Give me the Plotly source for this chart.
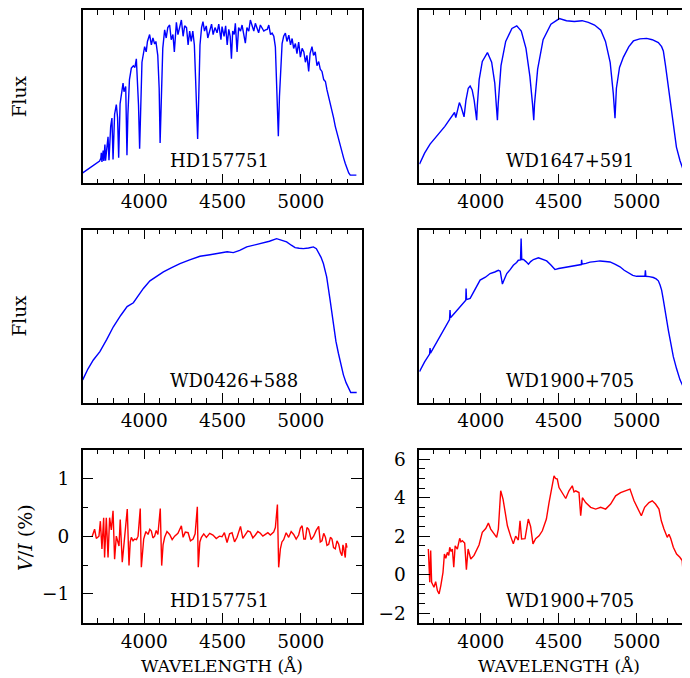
import plotly.graph_objects as go

# ---- data (flux in % of panel height, V/I in %) ----
hd_flux_wl = [3606, 3650, 3693, 3714, 3722, 3725, 3729, 3737, 3741, 3748, 3752, 3762, 3768, 3774,
              3785, 3793, 3800, 3810, 3821, 3829, 3836, 3845, 3855, 3864, 3870, 3881, 3889, 3895,
              3905, 3917, 3930, 3940, 3949, 3955, 3963, 3970, 3976, 3985, 4002, 4012, 4020, 4034,
              4045, 4055, 4066, 4074, 4086, 4095, 4101, 4108, 4118, 4130, 4140, 4150, 4162, 4172,
              4183, 4192, 4205, 4215, 4225, 4237, 4248, 4258, 4270, 4280, 4290, 4300, 4310, 4320,
              4328, 4334, 4341, 4348, 4356, 4366, 4375, 4385, 4396, 4406, 4418, 4430, 4440, 4452,
              4465, 4476, 4490, 4497, 4510, 4520, 4530, 4540, 4549, 4557, 4565, 4575, 4582, 4593,
              4603, 4615, 4625, 4635, 4646, 4656, 4668, 4678, 4690, 4700, 4710, 4720, 4731, 4742,
              4752, 4764, 4775, 4786, 4796, 4807, 4817, 4828, 4838, 4845, 4851, 4857, 4864, 4870,
              4876, 4881, 4891, 4902, 4912, 4924, 4935, 4945, 4955, 4966, 4976, 4987, 4998, 5009,
              5020, 5030, 5040, 5051, 5060, 5072, 5082, 5093, 5104, 5115, 5125, 5136, 5147, 5158,
              5168, 5179, 5190, 5200, 5210, 5221, 5232, 5243, 5254, 5264, 5275, 5285, 5296, 5307,
              5317, 5356]
hd_flux = [6.1, 9, 11.9, 12.9, 14.5, 17.7, 12.5, 19, 13, 22.5, 13.2, 24, 27, 13.4,
           33, 37.8, 13.8, 40, 45.5, 38, 14.8, 46, 52, 58, 53, 56, 16.3, 40,
           60, 66.6, 68, 67, 72, 62, 45, 20, 45, 70, 79, 76, 82, 86,
           80, 84, 80.5, 82, 74, 55, 23.4, 52, 78, 88.7, 84, 90, 91.5, 83,
           86, 76, 93, 86, 90, 94.4, 85, 91, 90, 80, 88, 82, 88, 80,
           60, 40, 25.7, 50, 80, 90, 93.5, 88, 91, 84, 89, 92, 86, 90,
           87, 92, 83, 90.6, 85, 91, 80, 89, 85, 72, 88, 86, 92.5, 76,
           90, 88, 91.5, 85, 81, 90, 88, 94.4, 91, 88, 92.5, 90, 87, 91.5,
           90, 88, 88.7, 89, 91.5, 86, 86.8, 85, 78.9, 60, 40, 27.3, 50, 61.4,
           80, 80.8, 85, 86.8, 82, 85.6, 80, 83.7, 78, 80.8, 75, 81.7, 73, 78,
           76, 70, 74, 64.7, 75, 79, 74, 76, 68, 70.4, 66, 64.7, 60, 58.9,
           54, 50, 46, 42.6, 38, 33, 29, 24.4, 20.5, 17.7, 14.5, 11.5, 8.5, 6.1,
           4.8, 4.8]

wd1647_wl = [3607, 3640, 3675, 3710, 3739, 3770, 3793, 3821, 3832, 3840, 3852, 3863, 3875, 3886,
             3893, 3905, 3920, 3932, 3945, 3958, 3968, 3974, 3978, 3990, 4010, 4043, 4070, 4090,
             4100, 4107, 4112, 4130, 4160, 4200, 4231, 4260, 4290, 4315, 4332, 4340, 4345, 4365,
             4400, 4450, 4504, 4550, 4600, 4650, 4690, 4730, 4770, 4800, 4830, 4850, 4861, 4870,
             4890, 4915, 4950, 4979, 5020, 5064, 5100, 5139, 5160, 5171, 5185, 5203, 5220, 5235,
             5255, 5278, 5300, 5316, 5342]
wd1647_flux = [11.2, 17.5, 22.7, 26.5, 29.4, 33, 36, 39.6, 41, 38, 43, 46.7, 44, 40,
               38.5, 48, 55, 56.3, 54, 48, 41, 36.5, 45, 60, 70.5, 75.6, 70, 58,
               45, 36.5, 46, 68, 82, 89.5, 91, 88, 78, 62, 46, 36.5, 46, 66,
               83, 92, 95.2, 94, 93.5, 94, 93, 91.5, 88.5, 82, 70, 52, 37.7, 55,
               67, 73, 79, 82.3, 83.5, 83.8, 83, 81.3, 79, 76.5, 68, 55.4, 43, 32.3,
               21, 13.1, 7.5, 5, 5]

wd0426_wl = [3606, 3640, 3674, 3716, 3760, 3802, 3850, 3890, 3930, 3965, 3994, 4036, 4080, 4122,
             4175, 4228, 4290, 4356, 4420, 4484, 4530, 4569, 4610, 4655, 4710, 4761, 4800, 4846,
             4880, 4910, 4940, 4964, 4990, 5017, 5050, 5081, 5100, 5113, 5130, 5145, 5166, 5188,
             5209, 5225, 5241, 5257, 5273, 5290, 5305, 5320, 5358]
wd0426_flux = [13.1, 19.5, 24.6, 29.4, 36.5, 43.8, 50.5, 55.5, 57.7, 62, 66, 70.4, 73, 75.6,
               78, 80.4, 82.5, 84.6, 85.5, 86.7, 87.2, 86.7, 88, 90, 91.2, 92.3, 93.3, 94.8,
               94, 92.9, 91, 89.6, 89.2, 89, 89.4, 90, 89, 87.1, 84, 80.4, 72.7, 59.2,
               43.8, 35.5, 28.5, 22, 16, 11.5, 8.3, 5.8, 5.8]

wd1900_wl = [3607, 3640, 3672, 3675, 3678, 3710, 3739, 3770, 3800, 3803, 3806, 3840, 3868, 3890,
             3904, 3906, 3909, 3932, 3965, 3996, 4030, 4060, 4090, 4113, 4125, 4132, 4139, 4150,
             4167, 4190, 4209, 4230, 4241, 4255, 4259, 4263, 4274, 4290, 4306, 4320, 4338, 4370,
             4395, 4423, 4450, 4476, 4500, 4530, 4560, 4594, 4620, 4645, 4647, 4650, 4675, 4701,
             4730, 4765, 4800, 4829, 4860, 4893, 4920, 4947, 4975, 5000, 5030, 5053, 5056, 5059,
             5080, 5107, 5125, 5139, 5150, 5160, 5170, 5182, 5192, 5203, 5220, 5235, 5256, 5278,
             5300, 5321, 5342]
wd1900_flux = [17.9, 23.5, 28, 31.5, 28.6, 33.5, 38, 43, 48, 53.5, 49, 52.5, 55.4, 58,
               59.2, 66, 59.5, 60.2, 65.5, 70.8, 72.5, 74.6, 75.5, 76.5, 76, 73, 68.5, 71,
               74.6, 77, 79.4, 81, 82.3, 82.5, 94.8, 82.8, 82.7, 81.5, 80, 81.5, 82.7, 83.7,
               83, 81.9, 79.5, 76.9, 77.5, 78, 78.5, 79, 79.5, 79.8, 82.5, 80, 80.5, 81.2,
               81.5, 81.9, 81.6, 81.3, 80, 78.5, 76.5, 75, 73.5, 73, 73.2, 73, 76.5, 73,
               72.8, 72.3, 71.5, 70.4, 68, 65, 60, 54.4, 48, 41.9, 33.5, 26.5, 19.5, 13.1,
               8.8, 6.3, 6.3]

hd_vi_wl = [3667, 3675, 3682, 3693, 3710, 3719, 3729, 3740, 3746, 3757, 3768, 3778, 3789, 3800,
            3810, 3821, 3838, 3846, 3859, 3874, 3891, 3902, 3910, 3917, 3928, 3938, 3950, 3960,
            3974, 3981, 3989, 3996, 4010, 4024, 4035, 4045, 4055, 4066, 4076, 4087, 4102, 4111,
            4120, 4130, 4145, 4162, 4178, 4194, 4215, 4237, 4248, 4262, 4280, 4295, 4312, 4325,
            4339, 4345, 4355, 4365, 4380, 4397, 4418, 4439, 4460, 4480, 4497, 4512, 4529, 4545,
            4561, 4577, 4593, 4604, 4615, 4630, 4646, 4662, 4678, 4694, 4710, 4726, 4742, 4758,
            4774, 4790, 4806, 4817, 4827, 4838, 4851, 4859, 4870, 4880, 4891, 4907, 4923, 4939,
            4955, 4971, 4987, 4998, 5009, 5020, 5030, 5040, 5051, 5067, 5083, 5099, 5115, 5125,
            5136, 5147, 5158, 5168, 5179, 5190, 5200, 5210, 5221, 5232, 5243, 5254, 5264, 5270,
            5275, 5280, 5285, 5290, 5296]
hd_vi = [0, 0.05, 0.12, -0.04, 0, 0.26, -0.22, 0.32, -0.37, 0.32, -0.37, 0.32, 0.11, 0.44,
         -0.4, 0, -0.17, 0.29, -0.45, -0.02, 0.47, -0.51, -0.1, -0.02, -0.08, -0.05, -0.06, 0,
         0.48, -0.54, -0.2, -0.05, 0.08, 0.03, 0.12, 0.09, -0.03, 0, 0.1, 0.03, 0.48, -0.51,
         -0.15, -0.02, 0.08, 0.03, -0.06, 0, 0.05, 0.18, -0.02, 0.07, 0.06, -0.08, -0.05, 0.04,
         0.51, -0.54, -0.1, -0.02, 0.04, -0.02, 0.05, 0.02, -0.04, 0, -0.01, 0.06, -0.11, 0.04,
         0.06, -0.1, -0.02, 0.1, 0.17, -0.04, 0.02, 0.09, 0.07, -0.03, 0.02, 0.08, 0.05, 0.0,
         0.03, 0.06, 0.02, 0.04, 0.07, 0.15, 0.55, -0.54, -0.22, -0.1, -0.06, 0.06, -0.02, 0.08,
         0.03, -0.05, 0.02, 0.14, 0.18, -0.05, -0.05, 0.15, 0.12, -0.06, 0, 0.1, 0.17, -0.1,
         -0.08, 0.05, -0.02, -0.16, -0.14, -0.02, -0.05, -0.2, -0.22, -0.08, -0.14, -0.28, -0.34, -0.15,
         -0.2, -0.3, -0.37, -0.12, -0.2]

wd1900_vi_wl = [3664, 3668, 3673, 3679, 3685, 3700, 3711, 3722, 3733, 3744, 3758, 3767, 3776, 3786,
                3795, 3801, 3810, 3818, 3827, 3836, 3850, 3865, 3873, 3882, 3897, 3908, 3919, 3936,
                3957, 3989, 4010, 4032, 4049, 4064, 4085, 4102, 4113, 4128, 4143, 4156, 4171, 4192,
                4209, 4224, 4241, 4252, 4262, 4284, 4305, 4320, 4335, 4352, 4374, 4395, 4421, 4438,
                4455, 4470, 4480, 4491, 4502, 4523, 4545, 4566, 4587, 4598, 4609, 4630, 4641, 4652,
                4673, 4705, 4737, 4769, 4801, 4833, 4865, 4897, 4929, 4957, 4983, 5008, 5030, 5051,
                5079, 5100, 5121, 5143, 5158, 5175, 5196, 5207, 5218, 5235, 5256, 5277, 5292, 5297,
                5303]
wd1900_vi = [1.33, 0.2, -0.4, 1.25, -0.4, -0.66, -0.37, -0.83, -1.0, -0.57, 0.12, 1.07, 0.85, 1.16,
             1.0, 1.42, 1.2, 1.33, 0.38, 1.5, 1.33, 1.89, 1.7, 1.76, 1.64, 0.26, 1.33, 0.81,
             1.0, 1.54, 2.2, 2.4, 2.68, 2.37, 2.11, 1.94, 2.37, 4.36, 3.93, 3.24, 2.54, 1.99,
             1.6, 2.0, 1.8, 2.8, 1.85, 1.87, 2.89, 2.5, 1.6, 1.87, 2.02, 2.28, 2.89, 3.75,
             4.62, 5.14, 5.0, 4.97, 4.53, 4.27, 3.96, 4.36, 4.62, 4.3, 4.36, 4.27, 3.06, 4.0,
             3.75, 3.5, 3.41, 3.5, 3.41, 3.67, 4.1, 4.27, 4.36, 4.45, 3.84, 3.41, 3.06, 3.5,
             3.75, 3.84, 3.67, 3.41, 2.8, 2.37, 1.94, 2.1, 1.89, 1.42, 1.07, 0.9, 0.73, 0.2,
             1.33]

names = ["HD157751", "WD1647+591", "WD0426+588", "WD1900+705", "HD157751", "WD1900+705"]

FONT = "DejaVu Serif"
BLUE = "#0000ff"
RED = "#ff0000"

# the page body has an 8px margin, so the figure is 8px smaller and everything shifted by 8px
W, H, OFF = 682, 670, 8


def px(x):
    return (x - OFF) / W


def py(y):
    return 1 - (y - OFF) / H


fig = go.Figure()
series = [(hd_flux_wl, hd_flux, BLUE), (wd1647_wl, wd1647_flux, BLUE),
          (wd0426_wl, wd0426_flux, BLUE), (wd1900_wl, wd1900_flux, BLUE),
          (hd_vi_wl, hd_vi, RED), (wd1900_vi_wl, wd1900_vi, RED)]
for i, (wl, val, col) in enumerate(series):
    sfx = "" if i == 0 else str(i + 1)
    fig.add_trace(go.Scatter(x=wl, y=val, mode="lines", line=dict(color=col, width=1.4),
                             xaxis="x" + sfx, yaxis="y" + sfx, showlegend=False))

left_dom = [px(82.7), px(361.7)]
right_dom = [px(419.3), 1.0]
row_dom = [[py(183), py(9.3)], [py(402.7), py(229.3)], [py(623.5), py(450)]]

layout = dict(width=W, height=H, margin=dict(l=0, r=0, t=0, b=0),
              paper_bgcolor="white", plot_bgcolor="white",
              font=dict(family=FONT, size=18, color="black"))

for i in range(6):
    row, col = divmod(i, 2)
    sfx = "" if i == 0 else str(i + 1)
    left = col == 0
    layout["xaxis" + sfx] = dict(
        domain=left_dom if left else right_dom,
        range=[3606, 5390] if left else [3606, 5342],
        anchor="y" + sfx, tick0=4000, dtick=500, ticks="inside", ticklen=10,
        tickwidth=1, tickcolor="black", showline=True, linecolor="black", linewidth=1.5,
        mirror="ticks", showgrid=False, zeroline=False, ticklabelstandoff=1,
        minor=dict(dtick=100, ticks="inside", ticklen=5, tickcolor="black", showgrid=False),
        tickfont=dict(family=FONT, size=18.5))
    ya = dict(domain=row_dom[row], anchor="x" + sfx, showline=True, linecolor="black",
              linewidth=1.5, mirror=True if left else False, showgrid=False, zeroline=False)
    if row < 2:
        ya.update(range=[0, 100], showticklabels=False, ticks="")
    elif left:
        ya.update(range=[-1.5, 1.5], dtick=1, tick0=0, ticks="inside", ticklen=11,
                  tickcolor="black", mirror="ticks", ticklabelstandoff=8,
                  minor=dict(dtick=0.5, ticks="inside", ticklen=6, tickcolor="black",
                             showgrid=False),
                  tickfont=dict(family=FONT, size=18.5))
    else:
        ya.update(range=[-2.5, 6.5], dtick=2, tick0=0, ticks="inside", ticklen=11,
                  tickcolor="black", ticklabelstandoff=8,
                  minor=dict(dtick=0.5, ticks="inside", ticklen=6, tickcolor="black",
                             showgrid=False),
                  tickfont=dict(family=FONT, size=18.5))
    layout["yaxis" + sfx] = ya

annotations = []
for i, nm in enumerate(names):
    sfx = "" if i == 0 else str(i + 1)
    annotations.append(dict(text=nm, x=4150, y=0.13, xref="x" + sfx, yref="y" + sfx + " domain",
                            xanchor="left", yanchor="middle", showarrow=False,
                            font=dict(family=FONT, size=18)))
for yc in [py(96), py(316)]:
    annotations.append(dict(text="Flux", x=px(19.5), y=yc, xref="paper", yref="paper",
                            xanchor="center", yanchor="middle",
                            textangle=-90, showarrow=False, font=dict(family=FONT, size=18.5)))
annotations.append(dict(text="<i>V</i>/<i>I</i> (%)", x=px(25.5), y=py(538),
                        xref="paper", yref="paper", xanchor="center", yanchor="middle",
                        textangle=-90, showarrow=False, font=dict(family=FONT, size=19)))
for xc in [px(222.2), px(558.6)]:
    annotations.append(dict(text="WAVELENGTH (Å)", x=xc, y=py(667), xref="paper",
                            yref="paper", xanchor="center", yanchor="middle",
                            showarrow=False, font=dict(family=FONT, size=17)))
layout["annotations"] = annotations

fig.update_layout(**layout)
fig.write_html("out.html")
